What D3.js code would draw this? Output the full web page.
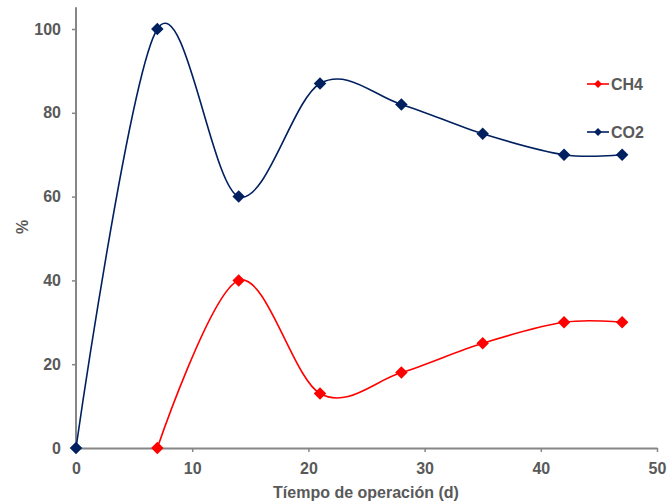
<!DOCTYPE html>
<html><head><meta charset="utf-8">
<script src="https://cdn.jsdelivr.net/npm/d3@7"></script>
<style>body{margin:0;background:#fff;}text{font-family:Arial,"Liberation Sans",sans-serif;}</style>
</head><body>
<svg id="c" width="668" height="504"></svg>
<script>
const days = [0, 7, 14, 21, 28, 35, 42, 47];
const co2 = [0, 100, 60, 87, 82, 75, 70, 70];
const ch4Days = [7, 14, 21, 28, 35, 42, 47];
const ch4 = [0, 40, 13, 18, 25, 30, 30];
const xTicks = [0, 10, 20, 30, 40, 50];
const yTicks = [0, 20, 40, 60, 80, 100];

const svg = d3.select("#c");
const x = d3.scaleLinear().domain([0, 50]).range([76, 657]);
const y = d3.scaleLinear().domain([0, 100]).range([448, 29]);
const gray = "#595959", axisCol = "#868686";
const fs = 16;

const xa = svg.append("g").attr("transform", "translate(0,448)")
  .call(d3.axisBottom(x).tickValues(xTicks).tickSize(4).tickSizeOuter(0).tickPadding(11));
const ya = svg.append("g").attr("transform", "translate(76,0)")
  .call(d3.axisLeft(y).tickValues(yTicks).tickSize(4).tickSizeOuter(0).tickPadding(11));
ya.select(".domain").attr("d", `M0,${y(105.2)}V448`);
[xa, ya].forEach(a => {
  a.select(".domain").attr("stroke", axisCol).attr("stroke-width", 2);
  a.selectAll(".tick line").attr("stroke", axisCol).attr("stroke-width", 1.5);
  a.selectAll(".tick text").attr("fill", gray).attr("font-size", fs).attr("font-weight", "bold");
});

const line = d3.line().curve(d3.curveCatmullRom.alpha(0));
function series(xs, ys, col) {
  const pts = xs.map((d, i) => [x(d), y(ys[i])]);
  svg.append("path").attr("d", line(pts)).attr("fill", "none").attr("stroke", col).attr("stroke-width", 1.6);
  svg.append("g").selectAll("path").data(pts).join("path")
    .attr("d", d3.symbol(d3.symbolDiamond2, 100)())
    .attr("transform", d => `translate(${d[0]},${d[1]})`)
    .attr("fill", col);
}
series(ch4Days, ch4, "#FF0000");
series(days, co2, "#002060");

// legend
const leg = [["CH4", "#FF0000", 84], ["CO2", "#002060", 132]];
leg.forEach(([name, col, ly]) => {
  svg.append("line").attr("x1", 587).attr("x2", 609).attr("y1", ly).attr("y2", ly).attr("stroke", col).attr("stroke-width", 1.6);
  svg.append("path").attr("d", d3.symbol(d3.symbolDiamond2, 40)()).attr("transform", `translate(598,${ly})`).attr("fill", col);
  svg.append("text").attr("x", 611).attr("y", ly + 6).text(name).attr("fill", gray).attr("font-size", fs).attr("font-weight", "bold");
});

svg.append("text").attr("x", 366).attr("y", 498).attr("text-anchor", "middle")
  .attr("fill", gray).attr("font-size", fs).attr("font-weight", "bold").text("Tíempo de operación (d)");
svg.append("text").attr("transform", "translate(28,227) rotate(-90)").attr("text-anchor", "middle")
  .attr("fill", gray).attr("font-size", fs).attr("font-weight", "bold").text("%");
</script>
</body></html>
